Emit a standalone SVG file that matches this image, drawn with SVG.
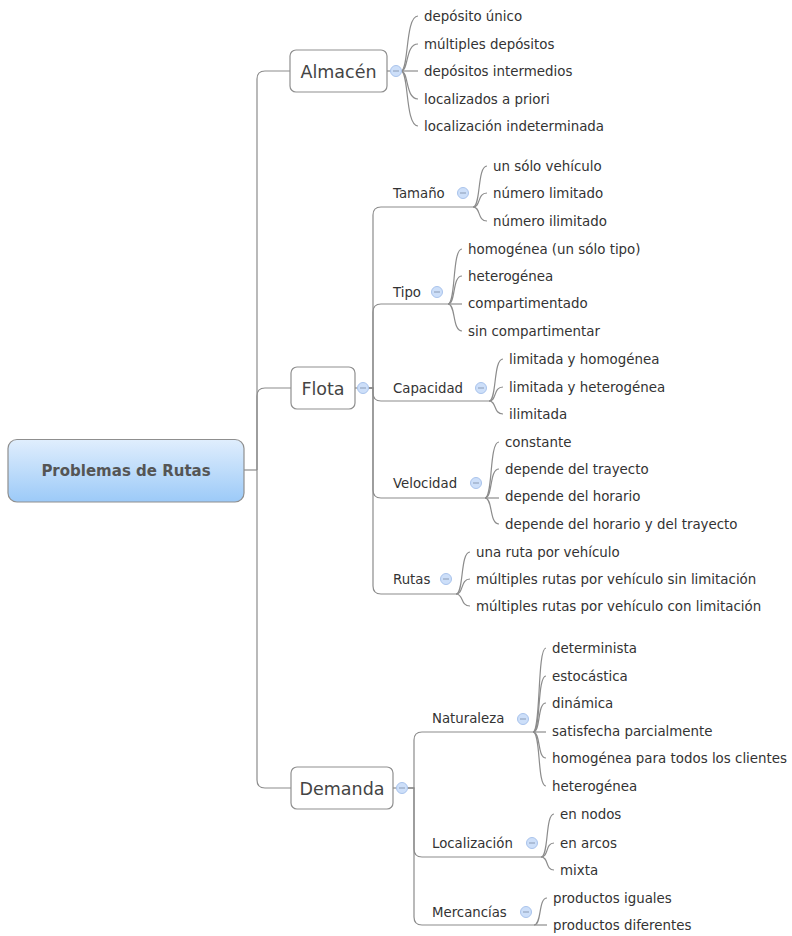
<svg xmlns="http://www.w3.org/2000/svg" width="792" height="936" viewBox="0 0 792 936">
  <defs>
    <linearGradient id="rootFill" x1="0" y1="0" x2="0" y2="1">
      <stop offset="0" stop-color="#e0eefd"/>
      <stop offset="1" stop-color="#9ccaf8"/>
    </linearGradient>
    <g id="toggle">
      <circle r="5.5" fill="#cddff9" stroke="#a9c3ec" stroke-width="1"/>
      <line x1="-3" y1="0" x2="3" y2="0" stroke="#8a9bb5" stroke-width="1"/>
    </g>
  </defs>
  <style>
    .wire { fill: none; stroke: #8c8c8c; stroke-width: 1.2; }
    .box { fill: #ffffff; stroke: #8f8f8f; stroke-width: 1.2; }
    .root { fill: url(#rootFill); stroke: #8f8f8f; stroke-width: 1.2; }
    .rootlabel { font-family: "DejaVu Sans", sans-serif; font-size: 15px; font-weight: bold; fill: #555555; text-anchor: middle; }
    .main { font-family: "DejaVu Sans", sans-serif; font-size: 17.5px; fill: #444444; text-anchor: middle; }
    .sub { font-family: "DejaVu Sans", sans-serif; font-size: 13.3px; fill: #333333; }
    .leaf { font-family: "DejaVu Sans", sans-serif; font-size: 13.4px; fill: #333333; }
  </style>

  <rect width="792" height="936" fill="#ffffff"/>

  <!-- connectors -->
  <g id="connectors">
    <!-- root trunk -->
    <path class="wire" d="M244,470 H257"/>
    <path class="wire" d="M257,470 V79 Q257,71 265,71 H290"/>
    <path class="wire" d="M257,470 V396 Q257,388 265,388 H291"/>
    <path class="wire" d="M257,470 V780 Q257,788 265,788 H291"/>
    <path class="wire" d="M387,71 H391"/>
    <path class="wire" d="M355,388 H358"/>
    <path class="wire" d="M393,788 H397"/>

    <!-- Almacén leaves -->
    <path class="wire" d="M401,71 C409,71 405,16 418,16"/>
    <path class="wire" d="M401,71 C409,71 405,44 418,44"/>
    <path class="wire" d="M401,71 H418"/>
    <path class="wire" d="M401,71 C409,71 405,99 418,99"/>
    <path class="wire" d="M401,71 C409,71 405,126 418,126"/>

    <!-- Flota branches -->
    <path class="wire" d="M368,388 H373 V215 Q373,207 381,207 H473"/>
    <path class="wire" d="M368,388 H373 V312 Q373,304 381,304 H448"/>
    <path class="wire" d="M368,388 H373 V393 Q373,401 381,401 H489"/>
    <path class="wire" d="M368,388 H373 V490 Q373,498 381,498 H485"/>
    <path class="wire" d="M368,388 H373 V586 Q373,594 381,594 H456"/>

    <!-- Tamaño leaves -->
    <path class="wire" d="M473,207 C481,207 477,166 487,166"/>
    <path class="wire" d="M473,207 C481,207 477,193 487,193"/>
    <path class="wire" d="M473,207 C481,207 477,221 487,221"/>

    <!-- Tipo leaves -->
    <path class="wire" d="M448,304 C456,304 452,249 462,249"/>
    <path class="wire" d="M448,304 C456,304 452,276 462,276"/>
    <path class="wire" d="M448,304 H462"/>
    <path class="wire" d="M448,304 C456,304 452,331 462,331"/>

    <!-- Capacidad leaves -->
    <path class="wire" d="M489,401 C497,401 493,359 503,359"/>
    <path class="wire" d="M489,401 C497,401 493,387 503,387"/>
    <path class="wire" d="M489,401 C497,401 493,414 503,414"/>

    <!-- Velocidad leaves -->
    <path class="wire" d="M485,498 C493,498 489,442 499,442"/>
    <path class="wire" d="M485,498 C493,498 489,469 499,469"/>
    <path class="wire" d="M485,498 H499"/>
    <path class="wire" d="M485,498 C493,498 489,524 499,524"/>

    <!-- Rutas leaves -->
    <path class="wire" d="M456,594 C464,594 460,552 470,552"/>
    <path class="wire" d="M456,594 C464,594 460,579 470,579"/>
    <path class="wire" d="M456,594 C464,594 460,606 470,606"/>

    <!-- Demanda branches -->
    <path class="wire" d="M407,788 H414 V740 Q414,732 422,732 H533"/>
    <path class="wire" d="M407,788 H414 V849 Q414,857 422,857 H541"/>
    <path class="wire" d="M407,788 H414 V917 Q414,925 422,925 H534"/>

    <!-- Naturaleza leaves -->
    <path class="wire" d="M533,732 C541,732 537,648 546,648"/>
    <path class="wire" d="M533,732 C541,732 537,676 546,676"/>
    <path class="wire" d="M533,732 C541,732 537,703 546,703"/>
    <path class="wire" d="M533,732 H546"/>
    <path class="wire" d="M533,732 C541,732 537,758 546,758"/>
    <path class="wire" d="M533,732 C541,732 537,786 546,786"/>

    <!-- Localización leaves -->
    <path class="wire" d="M541,857 C549,857 545,814 554,814"/>
    <path class="wire" d="M541,857 C549,857 545,843 554,843"/>
    <path class="wire" d="M541,857 C549,857 545,870 554,870"/>

    <!-- Mercancías leaves -->
    <path class="wire" d="M534,925 C542,925 538,898 547,898"/>
    <path class="wire" d="M534,925 H547"/>
  </g>

  <!-- root -->
  <g id="node-root">
    <rect class="root" x="8" y="439.5" width="236" height="62.5" rx="9"/>
    <text class="rootlabel" x="126" y="475.5">Problemas de Rutas</text>
  </g>

  <!-- main topics -->
  <g id="node-almacen">
    <rect class="box" x="290" y="50" width="97" height="42" rx="6"/>
    <text class="main" x="338.5" y="77.5">Almacén</text>
    <use href="#toggle" x="396" y="71"/>
  </g>
  <g id="node-flota">
    <rect class="box" x="291" y="367" width="64" height="42" rx="6"/>
    <text class="main" x="323" y="394.5">Flota</text>
    <use href="#toggle" x="363" y="388"/>
  </g>
  <g id="node-demanda">
    <rect class="box" x="291" y="767" width="102" height="42" rx="6"/>
    <text class="main" x="342" y="794.5">Demanda</text>
    <use href="#toggle" x="402" y="788"/>
  </g>

  <!-- Almacén leaves -->
  <g id="leaf-deposito-unico"><text class="leaf" x="424" y="20.5">depósito único</text></g>
  <g id="leaf-multiples-depositos"><text class="leaf" x="424" y="48.5">múltiples depósitos</text></g>
  <g id="leaf-depositos-intermedios"><text class="leaf" x="424" y="75.5">depósitos intermedios</text></g>
  <g id="leaf-localizados-a-priori"><text class="leaf" x="424" y="103.5">localizados a priori</text></g>
  <g id="leaf-localizacion-indeterminada"><text class="leaf" x="424" y="130.5">localización indeterminada</text></g>

  <!-- Flota subtopics -->
  <g id="node-tamano">
    <text class="sub" x="393" y="197.5">Tamaño</text>
    <use href="#toggle" x="463" y="193"/>
  </g>
  <g id="leaf-un-solo-vehiculo"><text class="leaf" x="493" y="170.5">un sólo vehículo</text></g>
  <g id="leaf-numero-limitado"><text class="leaf" x="493" y="197.5">número limitado</text></g>
  <g id="leaf-numero-ilimitado"><text class="leaf" x="493" y="225.5">número ilimitado</text></g>

  <g id="node-tipo">
    <text class="sub" x="393" y="296.5">Tipo</text>
    <use href="#toggle" x="437" y="292"/>
  </g>
  <g id="leaf-homogenea-un-solo-tipo"><text class="leaf" x="468" y="253.5">homogénea (un sólo tipo)</text></g>
  <g id="leaf-heterogenea-tipo"><text class="leaf" x="468" y="280.5">heterogénea</text></g>
  <g id="leaf-compartimentado"><text class="leaf" x="468" y="307.5">compartimentado</text></g>
  <g id="leaf-sin-compartimentar"><text class="leaf" x="468" y="335.5">sin compartimentar</text></g>

  <g id="node-capacidad">
    <text class="sub" x="393" y="392.5">Capacidad</text>
    <use href="#toggle" x="481" y="388"/>
  </g>
  <g id="leaf-limitada-homogenea"><text class="leaf" x="509" y="363.5">limitada y homogénea</text></g>
  <g id="leaf-limitada-heterogenea"><text class="leaf" x="509" y="391.5">limitada y heterogénea</text></g>
  <g id="leaf-ilimitada"><text class="leaf" x="509" y="418.5">ilimitada</text></g>

  <g id="node-velocidad">
    <text class="sub" x="393" y="487.5">Velocidad</text>
    <use href="#toggle" x="476" y="483"/>
  </g>
  <g id="leaf-constante"><text class="leaf" x="505" y="446.5">constante</text></g>
  <g id="leaf-depende-trayecto"><text class="leaf" x="505" y="473.5">depende del trayecto</text></g>
  <g id="leaf-depende-horario"><text class="leaf" x="505" y="500.5">depende del horario</text></g>
  <g id="leaf-depende-horario-trayecto"><text class="leaf" x="505" y="528.5">depende del horario y del trayecto</text></g>

  <g id="node-rutas">
    <text class="sub" x="393" y="583.5">Rutas</text>
    <use href="#toggle" x="446" y="579"/>
  </g>
  <g id="leaf-una-ruta"><text class="leaf" x="476" y="556.5">una ruta por vehículo</text></g>
  <g id="leaf-multiples-sin-limitacion"><text class="leaf" x="476" y="583.5">múltiples rutas por vehículo sin limitación</text></g>
  <g id="leaf-multiples-con-limitacion"><text class="leaf" x="476" y="610.5">múltiples rutas por vehículo con limitación</text></g>

  <!-- Demanda subtopics -->
  <g id="node-naturaleza">
    <text class="sub" x="432" y="722.5">Naturaleza</text>
    <use href="#toggle" x="523" y="719"/>
  </g>
  <g id="leaf-determinista"><text class="leaf" x="552" y="652.5">determinista</text></g>
  <g id="leaf-estocastica"><text class="leaf" x="552" y="680.5">estocástica</text></g>
  <g id="leaf-dinamica"><text class="leaf" x="552" y="707.5">dinámica</text></g>
  <g id="leaf-satisfecha"><text class="leaf" x="552" y="735.5">satisfecha parcialmente</text></g>
  <g id="leaf-homogenea-clientes"><text class="leaf" x="552" y="762.5">homogénea para todos los clientes</text></g>
  <g id="leaf-heterogenea-demanda"><text class="leaf" x="552" y="790.5">heterogénea</text></g>

  <g id="node-localizacion">
    <text class="sub" x="432" y="847.5">Localización</text>
    <use href="#toggle" x="532" y="843"/>
  </g>
  <g id="leaf-en-nodos"><text class="leaf" x="560" y="818.5">en nodos</text></g>
  <g id="leaf-en-arcos"><text class="leaf" x="560" y="847.5">en arcos</text></g>
  <g id="leaf-mixta"><text class="leaf" x="560" y="874.5">mixta</text></g>

  <g id="node-mercancias">
    <text class="sub" x="432" y="916.5">Mercancías</text>
    <use href="#toggle" x="526" y="912"/>
  </g>
  <g id="leaf-productos-iguales"><text class="leaf" x="553" y="902.5">productos iguales</text></g>
  <g id="leaf-productos-diferentes"><text class="leaf" x="553" y="929.5">productos diferentes</text></g>
</svg>
